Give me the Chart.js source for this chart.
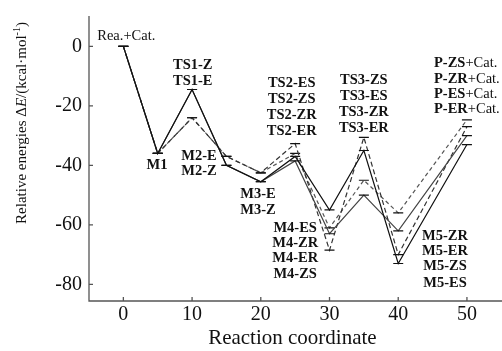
<!DOCTYPE html>
<html>
<head>
<meta charset="utf-8">
<script src="https://cdn.jsdelivr.net/npm/chart.js@4/dist/chart.umd.min.js"></script>
<style>
    html, body { margin: 0; padding: 0; background: #fff; }
    #wrap { width: 502px; height: 351px; }
</style>
</head>
<body>
<div id="wrap"><canvas id="energyChart"></canvas></div>
<script>
// reaction coordinate of each stationary point
const coords = [0, 5, 10, 15, 20, 25, 30, 35, 40, 50];

// relative energies (kcal/mol) per pathway
const pathZS = [0, -36, -14.5, -40, -45.5, -37, -55, -35, -73, -33];
const pathZR = [0, -36, -14.5, -40, -45.5, -38.5, -63, -50, -62, -30];
const pathES = [0, -36, -24, -37, -42.5, -32.7, -68.5, -30.6, -70, -27];
const pathER = [0, -36, -24, -37, -42.5, -36, -61, -45, -56, -24.7];

const yTicks = [0, -20, -40, -60, -80];
const xTicks = [0, 10, 20, 30, 40, 50];

// text labels for the stationary points: [text, x, y, align]
const pointLabels = [
    ["Rea.+Cat.", -3.8, 3.4, "left"],
    ["TS1-Z", 10.1, -6.4, "center"],
    ["TS1-E", 10.1, -11.8, "center"],
    ["M1", 4.9, -40, "center"],
    ["M2-E", 11.0, -37, "center"],
    ["M2-Z", 11.0, -42, "center"],
    ["M3-E", 19.6, -49.7, "center"],
    ["M3-Z", 19.6, -55, "center"],
    ["TS2-ES", 24.5, -12.4, "center"],
    ["TS2-ZS", 24.5, -17.8, "center"],
    ["TS2-ZR", 24.5, -23.2, "center"],
    ["TS2-ER", 24.5, -28.6, "center"],
    ["TS3-ZS", 35, -11.4, "center"],
    ["TS3-ES", 35, -16.8, "center"],
    ["TS3-ZR", 35, -22.2, "center"],
    ["TS3-ER", 35, -27.6, "center"],
    ["M4-ES", 25, -61.2, "center"],
    ["M4-ZR", 25, -66.2, "center"],
    ["M4-ER", 25, -71.3, "center"],
    ["M4-ZS", 25, -76.6, "center"],
    ["M5-ZR", 46.8, -63.9, "center"],
    ["M5-ER", 46.8, -68.9, "center"],
    ["M5-ZS", 46.8, -73.9, "center"],
    ["M5-ES", 46.8, -79.7, "center"],
    ["P-ZS|+Cat.", 45.2, -5.7, "left"],
    ["P-ZR|+Cat.", 45.2, -11.1, "left"],
    ["P-ES|+Cat.", 45.2, -16.1, "left"],
    ["P-ER|+Cat.", 45.2, -21.2, "left"]
];

const serif = '"Liberation Serif", "DejaVu Serif", serif';

function toXY(values) {
    return values.map((v, i) => ({ x: coords[i], y: v }));
}

function pathSet(values, color, dash) {
    return {
        data: toXY(values),
        borderColor: color,
        borderWidth: 1.2,
        borderDash: dash,
        pointStyle: "line",
        pointRadius: 5,
        pointBorderWidth: 1.2,
        pointBorderColor: "#111",
        pointHoverRadius: 5,
        tension: 0,
        fill: false
    };
}

const axesPlugin = {
    id: "axesPlugin",
    afterDraw(chart) {
        const ctx = chart.ctx;
        const x = chart.scales.x, y = chart.scales.y;
        const a = chart.chartArea;
        ctx.save();
        ctx.strokeStyle = "#555";
        ctx.lineWidth = 1.3;
        ctx.beginPath();
        ctx.moveTo(a.left, a.top - 3);
        ctx.lineTo(a.left, a.bottom);
        ctx.lineTo(chart.width, a.bottom);
        ctx.stroke();
        ctx.beginPath();
        xTicks.forEach(t => {
            const px = x.getPixelForValue(t);
            ctx.moveTo(px, a.bottom);
            ctx.lineTo(px, a.bottom - 4);
        });
        yTicks.forEach(t => {
            const py = y.getPixelForValue(t);
            ctx.moveTo(a.left, py);
            ctx.lineTo(a.left + 4, py);
        });
        ctx.stroke();

        // point labels
        ctx.fillStyle = "#111";
        ctx.textBaseline = "middle";
        pointLabels.forEach(([text, lx, ly, align]) => {
            const px = x.getPixelForValue(lx);
            const py = y.getPixelForValue(ly);
            if (text === "Rea.+Cat.") {
                ctx.font = "14.5px " + serif;
                ctx.textAlign = align;
                ctx.fillText(text, px, py);
            } else if (text.includes("|")) {
                const [bold, rest] = text.split("|");
                ctx.textAlign = "left";
                ctx.font = "bold 14.5px " + serif;
                ctx.fillText(bold, px, py);
                const w = ctx.measureText(bold).width;
                ctx.font = "14.5px " + serif;
                ctx.fillText(rest, px + w, py);
            } else {
                ctx.font = "bold 14.5px " + serif;
                ctx.textAlign = align;
                ctx.fillText(text, px, py);
            }
        });

        // y axis title with italic E and superscript
        ctx.translate(22, 123);
        ctx.rotate(-Math.PI / 2);
        ctx.textBaseline = "middle";
        const parts = [
            ["Relative energies \u0394", "15px " + serif, 0],
            ["E", "italic 15px " + serif, 0],
            ["/(kcal\u00b7mol", "15px " + serif, 0],
            ["-1", "10px " + serif, -5],
            [")", "15px " + serif, 0]
        ];
        let total = 0;
        parts.forEach(p => { ctx.font = p[1]; total += ctx.measureText(p[0]).width; });
        let cx = -total / 2;
        ctx.textAlign = "left";
        parts.forEach(p => {
            ctx.font = p[1];
            ctx.fillText(p[0], cx, p[2]);
            cx += ctx.measureText(p[0]).width;
        });
        ctx.restore();
    }
};

new Chart(document.getElementById("energyChart"), {
    type: "line",
    data: {
        datasets: [
            pathSet(pathZS, "#111", []),
            pathSet(pathZR, "#444", []),
            pathSet(pathES, "#333", [5, 3]),
            pathSet(pathER, "#555", [4, 3])
        ]
    },
    options: {
        responsive: true,
        maintainAspectRatio: false,
        animation: false,
        layout: { padding: { top: 10, right: 0, left: 0, bottom: 0 } },
        scales: {
            x: {
                type: "linear",
                min: -5,
                max: 54.2,
                afterBuildTicks: s => { s.ticks = xTicks.map(v => ({ value: v })); },
                afterFit: s => { s.height = 50; },
                grid: { display: false, drawTicks: false },
                border: { display: false },
                ticks: { color: "#111", font: { family: serif, size: 20 }, padding: 2 },
                title: {
                    display: true,
                    text: "Reaction coordinate",
                    color: "#111",
                    font: { family: serif, size: 21 },
                    padding: { top: 0, bottom: 0 }
                }
            },
            y: {
                min: -85.6,
                max: 9.2,
                afterBuildTicks: s => { s.ticks = yTicks.map(v => ({ value: v })); },
                afterFit: s => { s.width = 89; },
                grid: { display: false, drawTicks: false },
                border: { display: false },
                ticks: { color: "#111", font: { family: serif, size: 20 }, padding: 7 }
            }
        },
        plugins: {
            legend: { display: false },
            tooltip: { enabled: false }
        }
    },
    plugins: [axesPlugin]
});
</script>
</body>
</html>
